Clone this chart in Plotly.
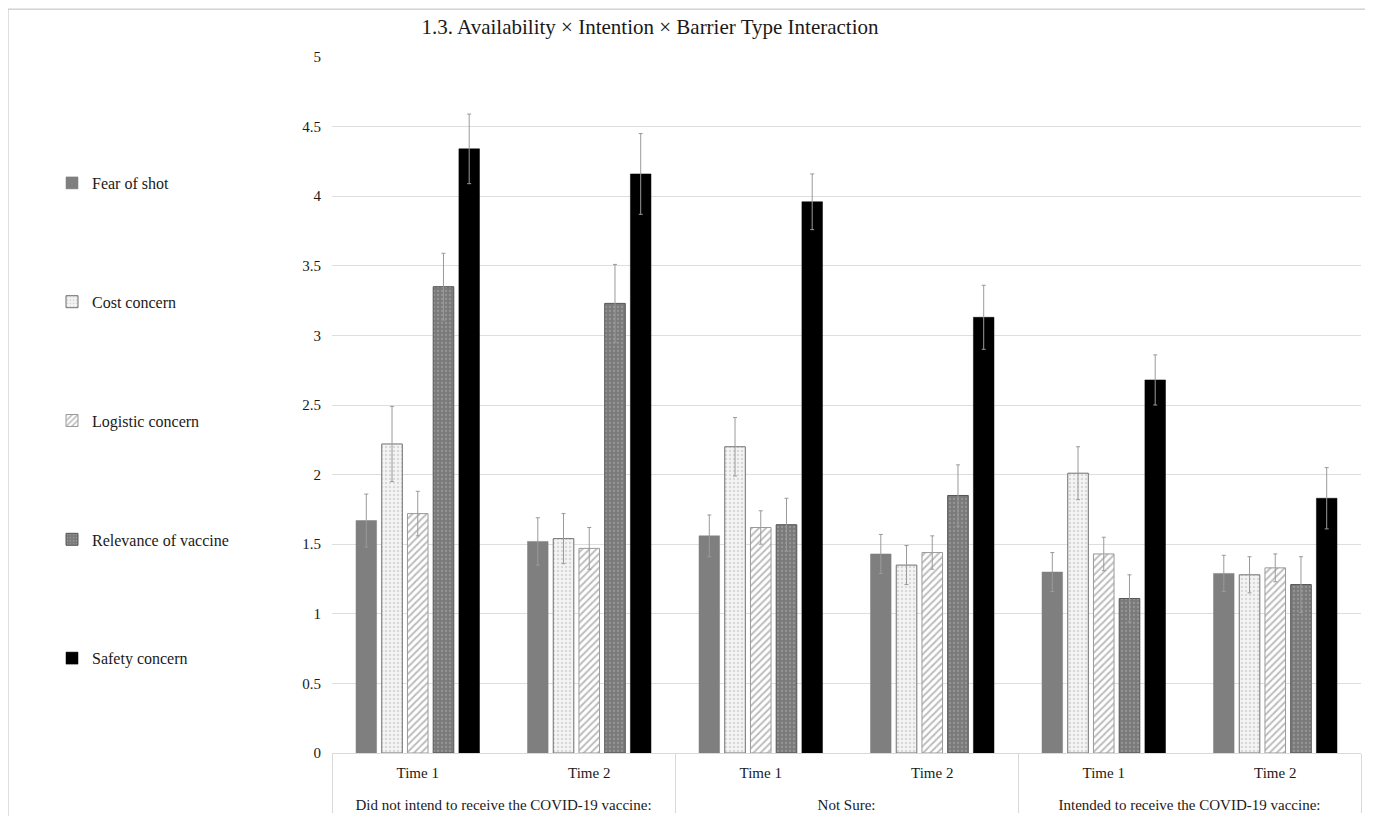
import plotly.graph_objects as go

intentions = ["Did not intend to receive the COVID-19 vaccine:", "Not Sure:", "Intended to receive the COVID-19 vaccine:"]
times = ["Time 1", "Time 2"]

series_names = ["Fear of shot", "Cost concern", "Logistic concern", "Relevance of vaccine", "Safety concern"]

# order: [Did not T1, Did not T2, Not sure T1, Not sure T2, Intended T1, Intended T2]
fear = [1.67, 1.52, 1.56, 1.43, 1.30, 1.29]
fear_err = [0.19, 0.17, 0.15, 0.14, 0.14, 0.13]
cost = [2.22, 1.54, 2.20, 1.35, 2.01, 1.28]
cost_err = [0.27, 0.18, 0.21, 0.14, 0.19, 0.13]
logistic = [1.72, 1.47, 1.62, 1.44, 1.43, 1.33]
logistic_err = [0.16, 0.15, 0.12, 0.12, 0.12, 0.10]
relevance = [3.35, 3.23, 1.64, 1.85, 1.11, 1.21]
relevance_err = [0.24, 0.28, 0.19, 0.22, 0.17, 0.20]
safety = [4.34, 4.16, 3.96, 3.13, 2.68, 1.83]
safety_err = [0.25, 0.29, 0.20, 0.23, 0.18, 0.22]

values = [fear, cost, logistic, relevance, safety]
errors = [fear_err, cost_err, logistic_err, relevance_err, safety_err]

outer = [g for g in intentions for _ in times]
inner = [t + "<br> " for _ in intentions for t in times]

styles = [
    dict(color="#7f7f7f", line=dict(color="#7f7f7f", width=0.5)),
    dict(color="#f4f4f4", line=dict(color="#6f6f6f", width=1),
         pattern=dict(shape=".", fgcolor="#bcbcbc", bgcolor="#f4f4f4", size=4, solidity=0.3)),
    dict(color="#ffffff", line=dict(color="#9a9a9a", width=1),
         pattern=dict(shape="/", fgcolor="#7a7a7a", bgcolor="#ffffff", size=5, solidity=0.4)),
    dict(color="#808080", line=dict(color="#555555", width=1),
         pattern=dict(shape=".", fgcolor="#b0b0b0", bgcolor="#7a7a7a", size=4, solidity=0.25)),
    dict(color="#000000", line=dict(color="#000000", width=0.5)),
]

fig = go.Figure()
for i, name in enumerate(series_names):
    fig.add_trace(go.Bar(
        x=[outer, inner], y=values[i], name=name,
        legendgroup=name,
        marker=styles[i],
        error_y=dict(type="data", array=errors[i], visible=True,
                     color="#9a9a9a", thickness=1, width=2),
    ))

font_family = "Liberation Serif, Times New Roman, serif"
W, H = 1357, 808

fig.update_layout(
    width=W, height=H,
    paper_bgcolor="white", plot_bgcolor="white",
    margin=dict(l=324, r=4, t=49, b=61),
    barmode="group", bargap=0.25, bargroupgap=0.2,
    font=dict(family=font_family, size=14, color="#1a1a1a"),
    title=dict(text="1.3. Availability \u00d7 Intention \u00d7 Barrier Type Interaction",
               x=642 / W, xanchor="center", xref="container",
               y=1 - 19 / H, yanchor="middle", yref="container",
               font=dict(family=font_family, size=21, color="#1a1a1a")),
    legend=dict(xref="container", yref="container", x=44 / W, y=1 - 158 / H,
                xanchor="left", yanchor="top", maxheight=700,
                tracegroupgap=95, bgcolor="rgba(0,0,0,0)",
                font=dict(family=font_family, size=16, color="#1a1a1a"),
                itemwidth=30),
    showlegend=True,
)

fig.update_yaxes(range=[0, 5], dtick=0.5, showgrid=True, gridcolor="#dedede", gridwidth=1,
                 zeroline=False, showline=False, ticks="", ticklabelstandoff=10,
                 tickfont=dict(family=font_family, size=15, color="#1a1a1a"))
fig.update_xaxes(type="multicategory", showline=True, linecolor="#d9d9d9", linewidth=1,
                 showdividers=True, dividercolor="#d9d9d9", dividerwidth=1,
                 ticks="", ticklabelstandoff=6,
                 tickfont=dict(family=font_family, size=15, color="#1a1a1a"))

# thin outer frame of the chart area (left and top edges)
fig.add_shape(type="rect", xref="paper", yref="paper",
              x0=(8 - 332) / 1029, x1=(1420 - 332) / 1029,
              y0=(755 - 900) / 698, y1=(755 - 9) / 698,
              line=dict(color="#bdbdbd", width=1), fillcolor="rgba(0,0,0,0)", layer="below")

fig.write_html("out.html")
